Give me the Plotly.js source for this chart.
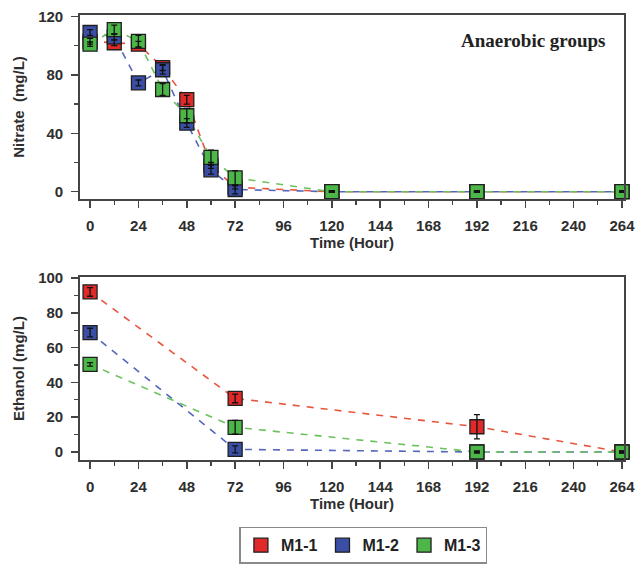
<!DOCTYPE html>
<html>
<head>
<meta charset="utf-8">
<script src="https://cdn.plot.ly/plotly-3.0.1.min.js"></script>
<style>html,body{margin:0;padding:0;background:#fff;}#chart{width:640px;height:565px;}</style>
</head>
<body>
<div id="chart"></div>
<script>
// ---- Data ----
const seriesNames = ['M1-1', 'M1-2', 'M1-3'];

const timeNitrate = [0, 12, 24, 36, 48, 60, 72, 120, 192, 264];
const nitrateM1_1 = [103, 102, 101, 85, 63, 18, 3, 0, 0, 0];
const nitrateM1_2 = [109, 106, 74.5, 83.5, 47, 15, 1.5, 0, 0, 0];
const nitrateM1_3 = [101, 111, 103, 70, 52, 23.5, 9.5, 0, 0, 0];
const nitrateErrM1_1 = [2, 2, 2, 2, 3, 2, 1, 0.5, 0.5, 0.5];
const nitrateErrM1_2 = [2, 2, 2, 3, 3, 3, 3, 0.5, 0.5, 0.5];
const nitrateErrM1_3 = [1.5, 3, 4, 4, 5, 5, 5, 0.5, 0.5, 0.5];

const timeEthanol = [0, 72, 192, 264];
const ethanolM1_1 = [92, 30.8, 14.5, 0];
const ethanolM1_2 = [68.6, 1.5, 0, 0];
const ethanolM1_3 = [50.4, 14.2, 0, 0];
const ethanolErrM1_1 = [2.5, 2.5, 7, 0.5];
const ethanolErrM1_2 = [2.5, 2, 0.5, 0.5];
const ethanolErrM1_3 = [1, 4, 0.5, 0.5];

const xTickVals = [0, 24, 48, 72, 96, 120, 144, 168, 192, 216, 240, 264];

// ---- Styles ----
const markerColors = ['#e02a2a', '#3b4ea6', '#4cb748'];
const lineColors = ['#e8553f', '#5566bb', '#6cc25c'];
const fam = '"Liberation Sans", Arial, sans-serif';
const font = {family: fam, size: 15, color: '#2e2e2e', weight: 'bold'};

const nitrateSets = [nitrateM1_1, nitrateM1_2, nitrateM1_3];
const nitrateErrs = [nitrateErrM1_1, nitrateErrM1_2, nitrateErrM1_3];
const ethanolSets = [ethanolM1_1, ethanolM1_2, ethanolM1_3];
const ethanolErrs = [ethanolErrM1_1, ethanolErrM1_2, ethanolErrM1_3];

const traces = [];
function addGroup(xs, sets, errs, xa, ya, legend) {
  sets.forEach((ys, i) => traces.push({
    x: xs, y: ys, xaxis: xa, yaxis: ya, mode: 'lines', showlegend: false, hoverinfo: 'skip',
    line: {color: lineColors[i], width: 1.6, dash: '7px,7px'}, cliponaxis: false
  }));
  sets.forEach((ys, i) => traces.push({
    x: xs, y: ys, xaxis: xa, yaxis: ya, mode: 'markers', name: seriesNames[i], showlegend: legend,
    marker: {symbol: 'square', size: 14, color: markerColors[i], line: {color: '#1f1f1f', width: 1.3}},
    cliponaxis: false
  }));
  sets.forEach((ys, i) => traces.push({
    x: xs, y: ys, xaxis: xa, yaxis: ya, mode: 'markers', showlegend: false, hoverinfo: 'skip',
    marker: {size: 1, opacity: 0},
    error_y: {type: 'data', array: errs[i], visible: true, color: '#111', thickness: 1.3, width: 3},
    cliponaxis: false
  }));
}
addGroup(timeNitrate, nitrateSets, nitrateErrs, 'x', 'y', true);
addGroup(timeEthanol, ethanolSets, ethanolErrs, 'x2', 'y2', false);

const axisCommon = {
  showline: true, linecolor: '#444', linewidth: 1.8, mirror: true,
  ticks: 'outside', ticklen: 7, tickwidth: 1.5, tickcolor: '#444',
  showgrid: false, zeroline: false, tickfont: font, ticklabelstandoff: 5
};
const minorX = {dtick: 12, tick0: 0, ticks: 'outside', ticklen: 4, tickwidth: 1.3, tickcolor: '#444'};

const layout = {
  width: 640, height: 565,
  margin: {l: 80, r: 16, t: 15, b: 105, autoexpand: false},
  paper_bgcolor: '#fff', plot_bgcolor: '#fff',
  font: font,
  showlegend: true,
  xaxis: Object.assign({}, axisCommon, {
    domain: [0, 1], anchor: 'y', range: [-5, 265], tickvals: xTickVals, minor: minorX,
    title: {text: 'Time (Hour)', font: font, standoff: 4}
  }),
  yaxis: Object.assign({}, axisCommon, {
    domain: [0.5865, 1], anchor: 'x', range: [-5, 121], dtick: 40, tick0: 0,
    minor: {dtick: 20, tick0: 0, ticks: 'outside', ticklen: 4, tickwidth: 1.3, tickcolor: '#444'},
    title: {text: 'Nitrate  (mg/L)', font: font, standoff: 10}
  }),
  xaxis2: Object.assign({}, axisCommon, {
    domain: [0, 1], anchor: 'y2', range: [-5, 265], tickvals: xTickVals, minor: minorX,
    title: {text: 'Time (Hour)', font: font, standoff: 4}
  }),
  yaxis2: Object.assign({}, axisCommon, {
    domain: [0, 0.411], anchor: 'x2', range: [-4.6, 100.5], dtick: 20, tick0: 0,
    minor: {dtick: 10, tick0: 0, ticks: 'outside', ticklen: 4, tickwidth: 1.3, tickcolor: '#444'},
    title: {text: 'Ethanol (mg/L)', font: font, standoff: 10}
  }),
  legend: {
    orientation: 'h', x: 0.521, xanchor: 'center', y: -0.15, yanchor: 'top',
    bordercolor: '#8a8a8a', borderwidth: 1.5, bgcolor: '#fff',
    font: {family: fam, size: 16, color: '#222', weight: 'bold'}
  },
  annotations: [{
    text: 'Anaerobic groups', xref: 'x domain', yref: 'y domain', x: 0.969, y: 0.864,
    xanchor: 'right', yanchor: 'middle', showarrow: false,
    font: {family: '"Liberation Serif", "Times New Roman", serif', size: 19, color: '#222', weight: 'bold'}
  }]
};

Plotly.newPlot('chart', traces, layout, {displayModeBar: false, staticPlot: true});
</script>
</body>
</html>
